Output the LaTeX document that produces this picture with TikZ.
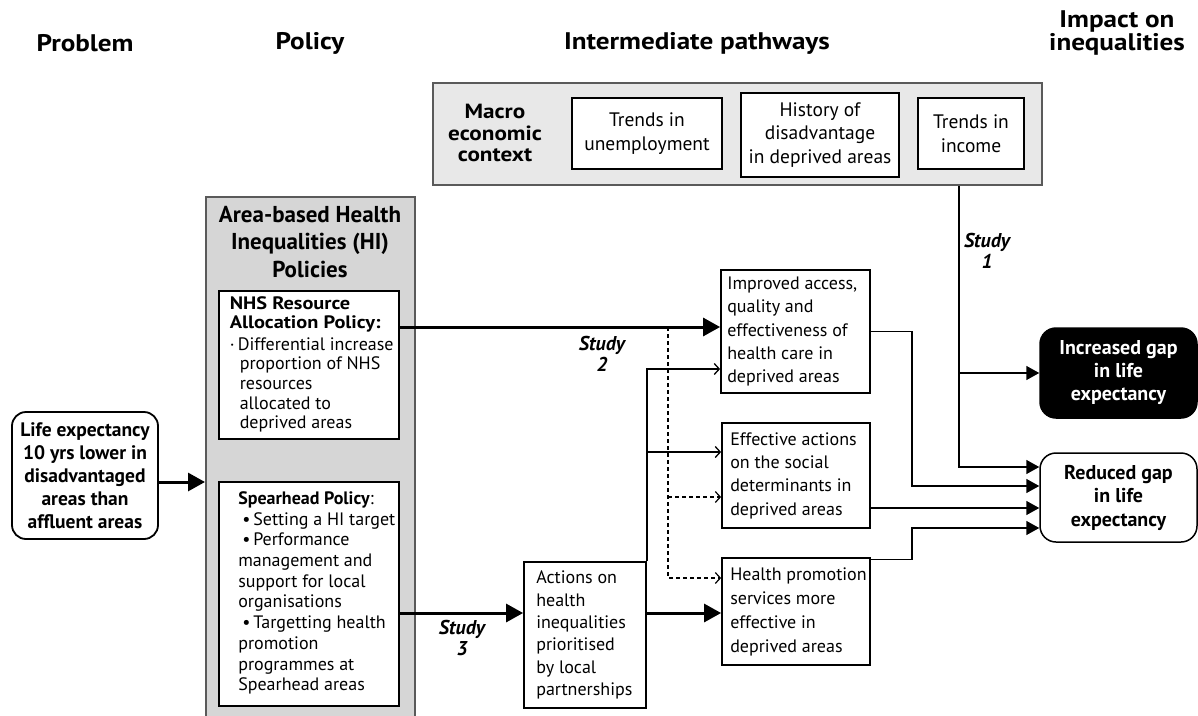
\documentclass[tikz,border=0pt]{standalone}
\usepackage{fontspec}
\setmainfont{PT Sans}
\newfontfamily\wideb{PT Sans}[FakeStretch=1.13]
\usetikzlibrary{arrows.meta}
\newcommand\myfs[2]{\fontsize{#1pt}{#2pt}\selectfont}
\newcommand\bla{\makebox[8pt][l]{·}}
\newcommand\inda{\hspace*{10pt}}
\newcommand\blb{\makebox[15pt][l]{\hspace*{4pt}•}}
\definecolor{macrofill}{HTML}{E8E8E8}
\definecolor{polfill}{HTML}{D6D6D6}
\definecolor{edgegray}{HTML}{5A5A5A}
\tikzset{
  hdr/.style={font=\wideb\myfs{24}{21}\bfseries, inner sep=0pt, align=center},
  bx/.style={draw=black, line width=1.8pt, fill=white, inner sep=0pt},
  ctr/.style={align=center, font=\myfs{19.5}{24.5}},
  txt/.style={inner sep=0pt, align=left, anchor=west},
  ttl/.style={inner sep=0pt, align=center},
  study/.style={inner sep=0pt, align=center, font=\myfs{20}{21}\bfseries\itshape},
  bigarr/.style={line width=3pt, -{Triangle[length=17pt,width=18pt]}},
  medarr/.style={line width=1.5pt, -{Triangle[length=13pt,width=14pt]}},
  thinarr/.style={line width=1.3pt, -{Straight Barb[length=5pt,width=11pt]}},
  dasharr/.style={line width=1.2pt, dash pattern=on 4pt off 3pt, -{Straight Barb[length=5pt,width=11pt]}},
}
\begin{document}
\begin{tikzpicture}[x=1pt,y=-1pt]
\useasboundingbox (0,0) rectangle (1198,715);
% headers
\node[hdr] (hprob) at (85,43) {Problem};
\node[hdr] (hpol) at (310,43) {Policy};
\node[hdr] (hint) at (697,43) {Intermediate pathways};
\node[hdr] (himp) at (1117,33) {Impact on\\inequalities};
% macro context
\node[draw=edgegray, line width=1.5pt, fill=macrofill, minimum width=609pt, minimum height=102pt, inner sep=0pt] (macro) at (737.5,134) {};
\node[ttl, font=\wideb\myfs{20.5}{21.5}\bfseries] (mtxt) at (495,133) {Macro\\economic\\context};
\node[bx, ctr, minimum width=150pt, minimum height=71pt] (unemp) at (647,133.5) {Trends in\\unemployment};
\node[bx, ctr, minimum width=158pt, minimum height=84pt, font=\myfs{19.5}{23.5}] (hist) at (820,135) {History of\\disadvantage\\in deprived areas};
\node[bx, ctr, minimum width=106pt, minimum height=71pt] (income) at (971,133.5) {Trends in\\income};
% policy column
\node[draw=edgegray, line width=1.5pt, fill=polfill, minimum width=209pt, minimum height=540pt, inner sep=0pt, anchor=north west] (pol) at (205,196) {};
\node[ttl, font=\myfs{23}{27.5}\bfseries] (poltitle) at (310,242) {Area-based Health\\Inequalities (HI)\\Policies};
\node[bx, minimum width=180pt, minimum height=148pt] (nhs) at (309,365) {};
\node[txt, font=\myfs{18}{19.7}] (nhst) at ([xshift=11.5pt,yshift=0.5pt]nhs.west)
 {{\wideb\bfseries NHS Resource}\\{\wideb\bfseries Allocation Policy:}\\[1.5pt]\bla Differential increase\\\inda proportion of NHS\\\inda resources\\\inda allocated to\\\inda deprived areas};
\node[bx, minimum width=180pt, minimum height=224pt] (spear) at (309,594) {};
\node[txt, font=\myfs{18}{20.7}] (speart) at ([xshift=20pt,yshift=1pt]spear.west)
 {\textbf{Spearhead Policy}:\\\blb Setting a HI target\\\blb Performance\\management and\\support for local\\organisations\\\blb Targetting health\\promotion\\programmes at\\Spearhead areas};
% problem
\node[bx, rounded corners=14pt, align=center, minimum width=146pt, minimum height=127pt, font=\myfs{19.5}{23}\bfseries] (life) at (85,475.5)
 {Life expectancy\\10 yrs lower in\\disadvantaged\\areas than\\affluent areas};
% intermediate boxes
\node[bx, minimum width=149pt, minimum height=123pt] (imp) at (795.5,331.5) {};
\node[txt, font=\myfs{18}{23.3}] (impt) at ([xshift=7pt]imp.west)
 {Improved access,\\quality and\\effectiveness of\\health care in\\deprived areas};
\node[bx, minimum width=148pt, minimum height=105pt] (eff) at (796,475.5) {};
\node[txt, font=\myfs{18}{23.3}] (efft) at ([xshift=9pt]eff.west)
 {Effective actions\\on the social\\determinants in\\deprived areas};
\node[bx, minimum width=148pt, minimum height=107pt] (hp) at (796,611.5) {};
\node[txt, font=\myfs{18}{24}] (hpt) at ([xshift=9pt]hp.west)
 {Health promotion\\services more\\effective in\\deprived areas};
\node[bx, minimum width=122pt, minimum height=146pt] (act) at (585,635) {};
\node[txt, font=\myfs{18}{22.4}] (actt) at ([xshift=13pt]act.west)
 {Actions on\\health\\inequalities\\prioritised\\by local\\partnerships};
% outcomes
\node[draw=black, fill=black, line width=1.5pt, rounded corners=16pt, text=white, align=center, minimum width=157pt, minimum height=90pt, inner sep=0pt, font=\myfs{20}{23}\bfseries] (incr) at (1118.5,373)
 {Increased gap\\in life\\expectancy};
\node[bx, line width=1.5pt, rounded corners=16pt, align=center, minimum width=157pt, minimum height=89pt, font=\myfs{20}{23.5}\bfseries] (red) at (1118.5,497.5)
 {Reduced gap\\in life\\expectancy};
% study labels
\node[study] (s1) at (987,251) {Study\\1};
\node[study] (s2) at (602,354) {Study\\2};
\node[study] (s3) at (462,638) {Study\\3};
% coordinates
\coordinate (n2) at ([yshift=38pt]nhs.east -| imp.west);
\coordinate (dtop) at (668,327);
\coordinate (hpin) at ([yshift=33.5pt]hp.west);
\coordinate (effin) at ([yshift=-21.5pt]eff.west);
\coordinate (e1) at ([yshift=23.5pt]eff.west);
\coordinate (i1) at ([yshift=-37.5pt]imp.west);
\coordinate (itop) at ([xshift=-12pt]income.south |- macro.south);
\coordinate (r1) at ([yshift=30.5pt]red.west);
\coordinate (r2) at ([yshift=11.5pt]red.west);
\coordinate (r3) at ([yshift=-10.5pt]red.west);
\coordinate (r4) at ([yshift=-30.5pt]red.west);
\coordinate (jx) at (912,0);
% connectors
\draw[bigarr] ([yshift=-6.5pt]life.east) -- ([yshift=-6.5pt]life.east -| pol.west);
\draw[bigarr] ([yshift=38pt]nhs.east) -- (n2);
\draw[bigarr] ([yshift=-19pt]spear.east) -- ([yshift=-19pt]spear.east -| act.west);
\draw[bigarr] ([yshift=22pt]act.east) -- ([yshift=22pt]act.east -| hp.west);
\draw[thinarr] (act.north east) |- (i1);
\draw[thinarr] (act.north east |- e1) -- (e1);
\draw[dasharr] (dtop) |- (hpin);
\draw[dasharr] (dtop |- effin) -- (effin);
\draw[medarr] (itop) |- (r1);
\draw[medarr] (itop |- incr.west) -- (incr.west);
\draw[medarr] (imp.east) -| (jx |- r2) -- (r2);
\draw[medarr] (eff.east |- r3) -- (r3);
\draw[medarr] (hp.east |- r4) ++(0,31.5) -| (jx |- r4) -- (r4);
\end{tikzpicture}
\end{document}
